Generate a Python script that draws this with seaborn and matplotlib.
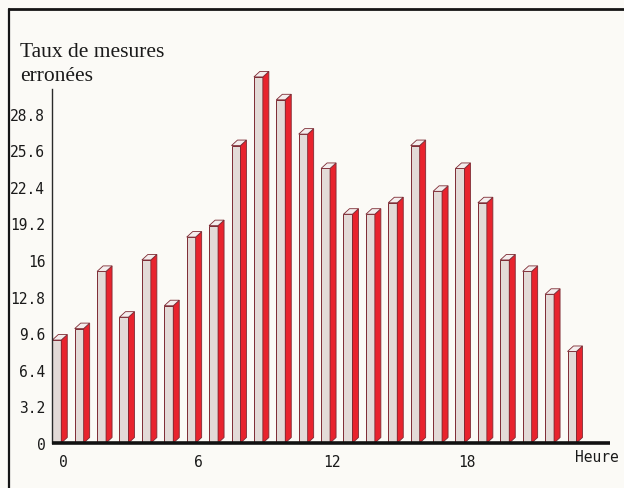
import matplotlib
matplotlib.use("Agg")
import matplotlib.pyplot as plt
from matplotlib.patches import Polygon
from matplotlib.lines import Line2D
import seaborn as sns
import pandas as pd

# Hourly error rate
hours = list(range(24))
rates = [9, 10, 15, 11, 16, 12, 18, 19, 26, 32, 30, 27,
         24, 20, 20, 21, 26, 22, 24, 21, 16, 15, 13, 8]
y_ticks = [0, 3.2, 6.4, 9.6, 12.8, 16, 19.2, 22.4, 25.6, 28.8]
x_labelled = [0, 6, 12, 18]
title_lines = ["Taux de mesures", "erronées"]
x_title = "Heure"

sns.set_style("white")
plt.rcParams["font.family"] = ["DejaVu Sans Mono"]

W, H = 624, 489
paper = "#fbfaf6"
front_col = "#e3dad7"
side_col = "#e8232d"
top_col = "#f4eded"
edge_col = "#7d2a33"

fig = plt.figure(figsize=(W / 100, H / 100), dpi=100, facecolor=paper)

# axes placed in pixel units
x_left, x_right = 52.3, 610.0
y_zero, y_top = 444.0, 90.0
slot = 22.4
px_per_unit = 11.44
ax = fig.add_axes([x_left / W, (H - y_zero) / H,
                   (x_right - x_left) / W, (y_zero - y_top) / H])
ax.set_facecolor(paper)

df = pd.DataFrame({"hour": hours, "rate": rates})
sns.barplot(data=df, x="hour", y="rate", order=hours, width=0.4,
            color=front_col, saturation=1, edgecolor=edge_col,
            linewidth=0.7, ax=ax, zorder=2)

ax.set_xlim(-0.2, -0.2 + (x_right - x_left) / slot)
ax.set_ylim(0, (y_zero - y_top) / px_per_unit)

# depth of the 3D effect, in data units
dx = 6.0 / slot
dy = 5.5 / px_per_unit
for p in ax.patches[:len(hours)]:
    x0 = p.get_x()
    x1 = x0 + p.get_width()
    h = p.get_height()
    p.set_clip_on(False)
    side = Polygon([(x1, 0), (x1 + dx, dy), (x1 + dx, h + dy), (x1, h)],
                   closed=True, facecolor=side_col, edgecolor=edge_col,
                   linewidth=0.6, clip_on=False, zorder=2)
    top = Polygon([(x0, h), (x1, h), (x1 + dx, h + dy), (x0 + dx, h + dy)],
                  closed=True, facecolor=top_col, edgecolor=edge_col,
                  linewidth=0.6, clip_on=False, zorder=2)
    ax.add_patch(side)
    ax.add_patch(top)

# axes styling
sns.despine(ax=ax, top=True, right=True)
ax.spines["left"].set_linewidth(1.0)
ax.spines["left"].set_color("#2a2a2a")
ax.spines["bottom"].set_linewidth(2.6)
ax.spines["bottom"].set_color("#111111")
ax.spines["bottom"].set_zorder(5)
ax.spines["bottom"].set_capstyle("butt")

ax.set_yticks(y_ticks)
ax.set_yticklabels([f"{v:g}" for v in y_ticks])
ax.tick_params(axis="y", direction="out", length=4, width=0.9,
               color="#2a2a2a", pad=1, labelsize=10.5, labelcolor="#1a1a1a")

ax.set_xticks([h - 0.2 for h in hours], minor=True)
ax.set_xticks([h + 0.3 for h in x_labelled])
ax.set_xticklabels([str(h) for h in x_labelled])
ax.tick_params(axis="x", which="minor", direction="out", length=4,
               width=0.9, color="#2a2a2a")
ax.tick_params(axis="x", which="major", length=0, pad=8,
               labelsize=10.5, labelcolor="#1a1a1a")
ax.set_xlabel("")
ax.set_ylabel("")

fig.text(575 / W, 1 - 462 / H, x_title, fontsize=10.5, color="#1a1a1a",
         ha="left", va="baseline")

# two-line title in a serif face
fig.text(20 / W, 1 - 57.3 / H, title_lines[0], family="Liberation Serif",
         fontsize=15.5, color="#1a1a1a", ha="left", va="baseline")
fig.text(20 / W, 1 - 80.7 / H, title_lines[1], family="Liberation Serif",
         fontsize=15.5, color="#1a1a1a", ha="left", va="baseline")

# page frame
fig.add_artist(Line2D([9 / W, 1.0], [1 - 10 / H, 1 - 10 / H],
                      transform=fig.transFigure, color="#151515", lw=2.0))
fig.add_artist(Line2D([9 / W, 9 / W], [1 - 10 / H, 0.0],
                      transform=fig.transFigure, color="#151515", lw=1.6))

fig.savefig("out.png", dpi=100, facecolor=paper)
